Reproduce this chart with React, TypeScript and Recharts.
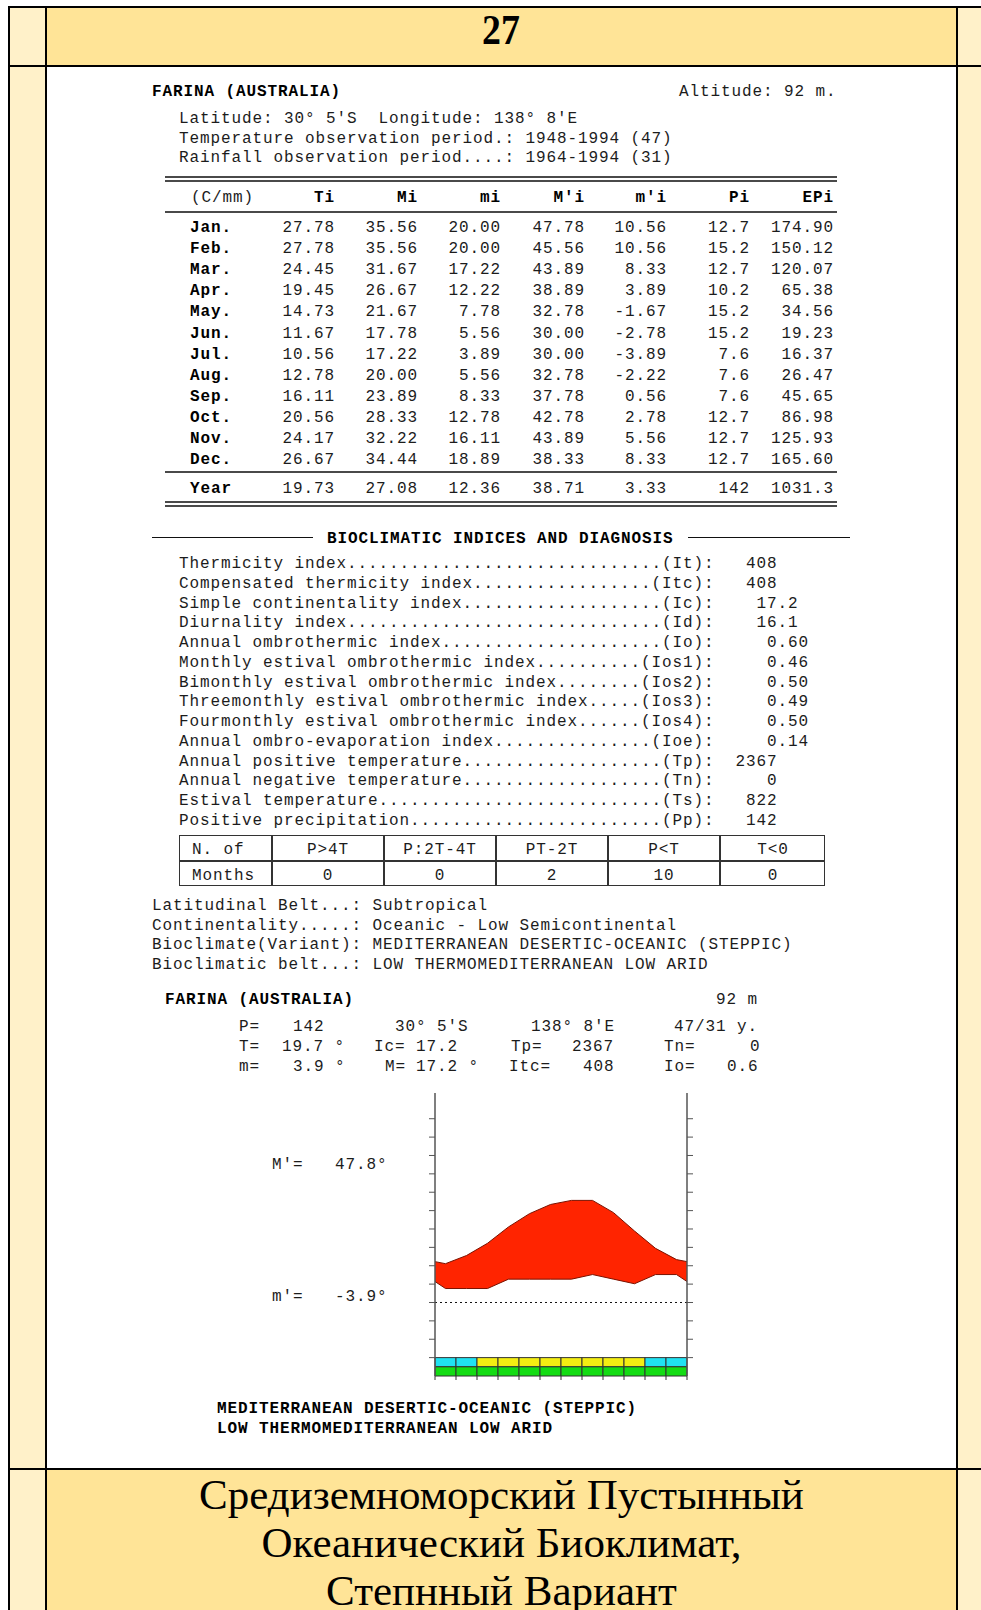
import React from "react";
import { ComposedChart, Area, XAxis, YAxis, ReferenceLine, ReferenceArea } from "recharts";

// ---------- data ----------
const monthLabels = ["Jan.", "Feb.", "Mar.", "Apr.", "May.", "Jun.", "Jul.", "Aug.", "Sep.", "Oct.", "Nov.", "Dec."];
const Ti = [27.78, 27.78, 24.45, 19.45, 14.73, 11.67, 10.56, 12.78, 16.11, 20.56, 24.17, 26.67];
const Mi = [35.56, 35.56, 31.67, 26.67, 21.67, 17.78, 17.22, 20.0, 23.89, 28.33, 32.22, 34.44];
const mi = [20.0, 20.0, 17.22, 12.22, 7.78, 5.56, 3.89, 5.56, 8.33, 12.78, 16.11, 18.89];
const Mpi = [47.78, 45.56, 43.89, 38.89, 32.78, 30.0, 30.0, 32.78, 37.78, 42.78, 43.89, 38.33];
const mpi = [10.56, 10.56, 8.33, 3.89, -1.67, -2.78, -3.89, -2.22, 0.56, 2.78, 5.56, 8.33];
const Pi = [12.7, 15.2, 12.7, 10.2, 15.2, 15.2, 7.6, 7.6, 7.6, 12.7, 12.7, 12.7];
const EPi = [174.9, 150.12, 120.07, 65.38, 34.56, 19.23, 16.37, 26.47, 45.65, 86.98, 125.93, 165.6];
const tableHeads = ["Ti", "Mi", "mi", "M'i", "m'i", "Pi", "EPi"];
const yearRow = ["19.73", "27.08", "12.36", "38.71", "3.33", "142", "1031.3"];

const headerLines = [
  "Latitude: 30° 5'S  Longitude: 138° 8'E",
  "Temperature observation period.: 1948-1994 (47)",
  "Rainfall observation period....: 1964-1994 (31)",
];

const indexNames = [
  "Thermicity index",
  "Compensated thermicity index",
  "Simple continentality index",
  "Diurnality index",
  "Annual ombrothermic index",
  "Monthly estival ombrothermic index",
  "Bimonthly estival ombrothermic index",
  "Threemonthly estival ombrothermic index",
  "Fourmonthly estival ombrothermic index",
  "Annual ombro-evaporation index",
  "Annual positive temperature",
  "Annual negative temperature",
  "Estival temperature",
  "Positive precipitation",
];
const indexCodes = ["It", "Itc", "Ic", "Id", "Io", "Ios1", "Ios2", "Ios3", "Ios4", "Ioe", "Tp", "Tn", "Ts", "Pp"];
const indexValues = ["408", "408", "17.2", "16.1", "0.60", "0.46", "0.50", "0.49", "0.50", "0.14", "2367", "0", "822", "142"];

const monthTypeHeads = ["P>4T", "P:2T-4T", "PT-2T", "P<T", "T<0"];
const monthTypeCounts = ["0", "0", "2", "10", "0"];

const diagLabels = ["Latitudinal Belt...: ", "Continentality.....: ", "Bioclimate(Variant): ", "Bioclimatic belt...: "];
const diagValues = [
  "Subtropical",
  "Oceanic - Low Semicontinental",
  "MEDITERRANEAN DESERTIC-OCEANIC (STEPPIC)",
  "LOW THERMOMEDITERRANEAN LOW ARID",
];

const summaryRow1 = ["P=", "142", "30° 5'S", "138° 8'E", "47/31 y."];
const summaryRow2 = ["T=", "19.7 °", "Ic=", "17.2", "Tp=", "2367", "Tn=", "0"];
const summaryRow3 = ["m=", "3.9 °", "M=", "17.2 °", "Itc=", "408", "Io=", "0.6"];

const bioclimateLines = ["MEDITERRANEAN DESERTIC-OCEANIC (STEPPIC)", "LOW THERMOMEDITERRANEAN LOW ARID"];
const russianLines = ["Средиземноморский Пустынный", "Океанический Биоклимат,", "Степнный Вариант"];

// diagram: southern hemisphere, July → June
const southOrder = [6, 7, 8, 9, 10, 11, 0, 1, 2, 3, 4, 5];
const thermicBand = ["c", "c", "y", "y", "y", "y", "y", "y", "y", "y", "c", "c"];
const frostBand = ["g", "g", "g", "g", "g", "g", "g", "g", "g", "g", "g", "g"];
const yTicks = [-30, -20, -10, 0, 10, 20, 30, 40, 50, 60, 70, 80, 90, 100];
const xTicks = [0, 1, 2, 3, 4, 5, 6, 7, 8, 9, 10, 11, 12];

const diagramData = [
  { x: -0.5, t: Ti[5], p: Pi[5] },
  ...southOrder.map((m, i) => ({ x: i + 0.5, t: Ti[m], p: Pi[m] })),
  { x: 12.5, t: Ti[6], p: Pi[6] },
];

// ---------- helpers ----------
const mono = "'Liberation Mono', 'DejaVu Sans Mono', monospace";
const bandColors: Record<string, string> = { c: "#20E2F2", y: "#F4EE12", g: "#14DC14" };

function Txt(props: { x: number; y: number; text: string; bold?: boolean; align?: "left" | "right" | "center"; color?: string }) {
  const { x, y, text, bold, align = "left", color = "#1c1c1c" } = props;
  const style: React.CSSProperties = {
    position: "absolute",
    top: y - 8,
    height: 20,
    lineHeight: "20px",
    fontFamily: mono,
    fontSize: 16,
    letterSpacing: "0.9px",
    whiteSpace: "pre",
    fontWeight: bold ? 700 : 400,
    color: bold ? "#000" : color,
  };
  if (align === "left") style.left = x;
  else if (align === "right") style.right = 981 - x;
  else {
    style.left = x;
    style.transform = "translateX(-50%)";
  }
  return <div style={style}>{text}</div>;
}

function Rect(props: { x: number; y: number; w: number; h: number; c: string }) {
  return <div style={{ position: "absolute", left: props.x, top: props.y, width: props.w, height: props.h, background: props.c }} />;
}

function fmtIndexLine(name: string, code: string, val: string) {
  const suffix = "(" + code + "):";
  let s = name;
  while (s.length < 51 - suffix.length) s += ".";
  s += suffix;
  const parts = val.split(".");
  s += parts[0].padStart(6, " ") + (parts.length > 1 ? "." + parts[1] : "");
  return s;
}

function Diagram() {
  return (
    <ComposedChart width={332} height={308} data={diagramData} margin={{ top: 10, right: 30, bottom: 5, left: 30 }}>
      <XAxis
        type="number"
        dataKey="x"
        domain={[0, 12]}
        allowDataOverflow
        ticks={xTicks}
        interval={0}
        tickSize={4}
        axisLine={false}
        tickLine={{ stroke: "#333" }}
        tickFormatter={() => ""}
        height={10}
      />
      <YAxis
        yAxisId="l"
        type="number"
        domain={[-40, 114]}
        allowDataOverflow
        ticks={yTicks}
        interval={0}
        tickSize={6}
        width={10}
        axisLine={{ stroke: "#555", strokeWidth: 1.5 }}
        tickLine={{ stroke: "#555" }}
        tickFormatter={() => ""}
      />
      <YAxis
        yAxisId="r"
        orientation="right"
        type="number"
        domain={[-40, 114]}
        allowDataOverflow
        ticks={yTicks}
        interval={0}
        tickSize={6}
        width={10}
        axisLine={{ stroke: "#555", strokeWidth: 1.5 }}
        tickLine={{ stroke: "#555" }}
        tickFormatter={() => ""}
      />
      <Area
        yAxisId="l"
        type="linear"
        dataKey={(d: any) => [d.p, d.t * 2]}
        fill="#FF2400"
        fillOpacity={1}
        stroke="#7a1200"
        strokeWidth={1}
        dot={false}
        activeDot={false}
        isAnimationActive={false}
      />
      <ReferenceLine yAxisId="l" y={0} stroke="#111" strokeDasharray="2 3" strokeWidth={1} />
      {thermicBand.map((c, i) => (
        <ReferenceArea key={"t" + i} yAxisId="l" x1={i} x2={i + 1} y1={-35} y2={-30} fill={bandColors[c]} fillOpacity={1} stroke="#333" strokeWidth={1} />
      ))}
      {frostBand.map((c, i) => (
        <ReferenceArea key={"f" + i} yAxisId="l" x1={i} x2={i + 1} y1={-40} y2={-35} fill={bandColors[c]} fillOpacity={1} stroke="#333" strokeWidth={1} />
      ))}
    </ComposedChart>
  );
}

export default function App() {
  const colRight = [335, 418, 501, 585, 667, 750, 834];
  const rowY0 = 226;
  const rowStep = 21.1;
  const idxY0 = 562;
  const idxStep = 19.75;
  const typeCols = [179, 271, 383, 495, 607, 719, 825];
  const r1x = [239, 293, 395, 531, 674];
  const r2x = [239, 282, 374, 416, 511, 572, 664, 750];
  const r3x = [239, 293, 385, 416, 509, 583, 664, 727];
  const dec = [2, 2, 2, 2, 2, 1, 2];
  const cols = [Ti, Mi, mi, Mpi, mpi, Pi, EPi];
  const lineC = "#4a4a4a";

  return (
    <div style={{ position: "absolute", left: 0, top: 0, width: 981, height: 1610, background: "#fff", overflow: "hidden" }}>
      {/* frame */}
      <Rect x={8} y={7} w={38} h={1603} c="#FFF1C9" />
      <Rect x={957} y={7} w={24} h={1603} c="#FFF1C9" />
      <Rect x={46} y={7} w={911} h={60} c="#FFE497" />
      <Rect x={46} y={1469} w={911} h={141} c="#FFE497" />
      <Rect x={8} y={6} w={973} h={2} c="#000" />
      <Rect x={8} y={6} w={2} h={1604} c="#000" />
      <Rect x={45} y={6} w={2} h={1604} c="#000" />
      <Rect x={956} y={6} w={2} h={1604} c="#000" />
      <Rect x={8} y={65} w={973} h={2} c="#000" />
      <Rect x={8} y={1468} w={973} h={2} c="#000" />

      <div style={{ position: "absolute", left: 501, top: 8, transform: "translateX(-50%) scaleX(0.9)", fontFamily: "'Liberation Serif', serif", fontWeight: 700, fontSize: 42, lineHeight: "44px" }}>27</div>

      {/* header */}
      <Txt x={152} y={90} text="FARINA (AUSTRALIA)" bold />
      <Txt x={679} y={90} text="Altitude: 92 m." />
      {headerLines.map((t, i) => (
        <Txt key={i} x={179} y={117 + i * 19.6} text={t} />
      ))}

      {/* table */}
      <Rect x={165} y={176} w={672} h={2} c={lineC} />
      <Rect x={165} y={180} w={672} h={2} c={lineC} />
      <Txt x={191} y={196} text="(C/mm)" />
      {tableHeads.map((h, i) => (
        <Txt key={h} x={colRight[i]} y={196} text={h} bold align="right" />
      ))}
      <Rect x={165} y={211} w={672} h={2} c={lineC} />
      {monthLabels.map((m, r) => (
        <React.Fragment key={m}>
          <Txt x={190} y={rowY0 + r * rowStep} text={m} bold />
          {cols.map((col, c) => (
            <Txt key={c} x={colRight[c]} y={rowY0 + r * rowStep} text={col[r].toFixed(dec[c])} align="right" />
          ))}
        </React.Fragment>
      ))}
      <Rect x={165} y={471} w={672} h={2} c={lineC} />
      <Txt x={190} y={487} text="Year" bold />
      {yearRow.map((v, c) => (
        <Txt key={c} x={colRight[c]} y={487} text={v} align="right" />
      ))}
      <Rect x={165} y={501} w={672} h={2} c={lineC} />
      <Rect x={165} y={505} w={672} h={2} c={lineC} />

      {/* indices */}
      <Rect x={152} y={537} w={161} h={1} c="#111" />
      <Rect x={688} y={537} w={162} h={1} c="#111" />
      <Txt x={327} y={537} text="BIOCLIMATIC INDICES AND DIAGNOSIS" bold />
      {indexNames.map((n, i) => (
        <Txt key={n} x={179} y={idxY0 + i * idxStep} text={fmtIndexLine(n, indexCodes[i], indexValues[i])} />
      ))}

      {/* month-type table */}
      <div style={{ position: "absolute", left: 179, top: 835, width: 646, height: 51, border: "1.5px solid #333", boxSizing: "border-box" }} />
      <Rect x={179} y={860} w={646} h={1.5} c="#333" />
      {typeCols.slice(1, 6).map((x) => (
        <Rect key={x} x={x} y={835} w={1.5} h={51} c="#333" />
      ))}
      <Txt x={192} y={848} text="N. of" />
      <Txt x={192} y={874} text="Months" />
      {monthTypeHeads.map((h, i) => (
        <Txt key={h} x={(typeCols[i + 1] + typeCols[i + 2]) / 2 + 1} y={848} text={h} align="center" />
      ))}
      {monthTypeCounts.map((v, i) => (
        <Txt key={i} x={(typeCols[i + 1] + typeCols[i + 2]) / 2 + 1} y={874} text={v} align="center" />
      ))}

      {diagLabels.map((l, i) => (
        <Txt key={l} x={152} y={904 + i * 19.6} text={l + diagValues[i]} />
      ))}

      {/* diagram header */}
      <Txt x={165} y={998} text="FARINA (AUSTRALIA)" bold />
      <Txt x={716} y={998} text="92 m" />
      {summaryRow1.map((t, i) => (
        <Txt key={i} x={r1x[i]} y={1025} text={t} />
      ))}
      {summaryRow2.map((t, i) => (
        <Txt key={i} x={r2x[i]} y={1045} text={t} />
      ))}
      {summaryRow3.map((t, i) => (
        <Txt key={i} x={r3x[i]} y={1065} text={t} />
      ))}

      <Txt x={272} y={1163} text="M'=" />
      <Txt x={335} y={1163} text={Math.max(...Mpi).toFixed(1) + "°"} />
      <Txt x={272} y={1295} text="m'=" />
      <Txt x={335} y={1295} text={Math.min(...mpi).toFixed(1) + "°"} />

      <div style={{ position: "absolute", left: 395, top: 1083 }}>
        <Diagram />
      </div>

      {bioclimateLines.map((t, i) => (
        <Txt key={i} x={217} y={1407 + i * 20} text={t} bold />
      ))}

      {russianLines.map((t, i) => (
        <div
          key={i}
          style={{
            position: "absolute",
            left: 46,
            width: 911,
            top: 1471 + i * 48,
            textAlign: "center",
            fontFamily: "'Liberation Serif', serif",
            fontSize: 43,
            lineHeight: "48px",
            color: "#000",
            whiteSpace: "nowrap",
          }}
        >
          {t}
        </div>
      ))}
    </div>
  );
}
